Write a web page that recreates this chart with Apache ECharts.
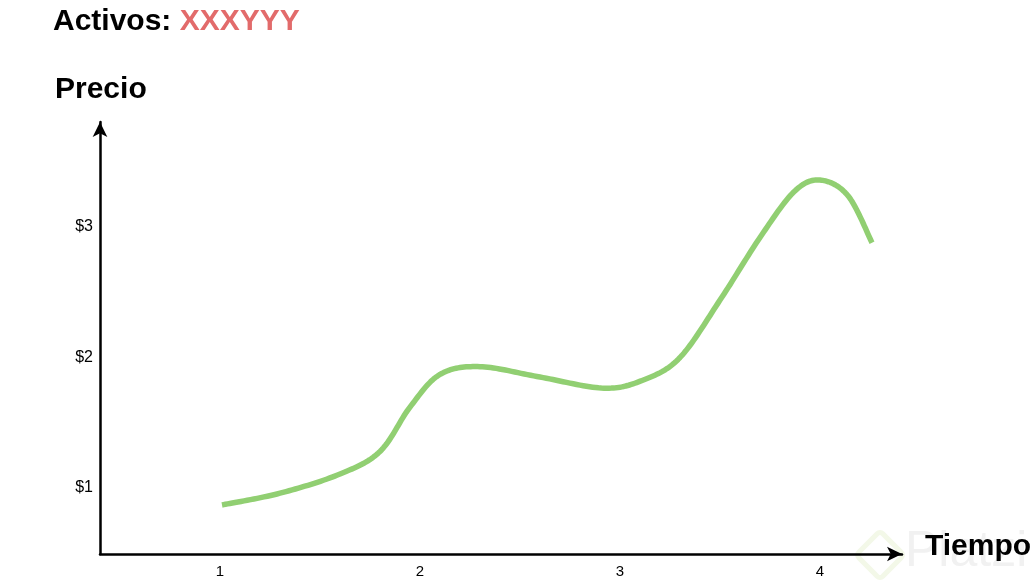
<!DOCTYPE html>
<html>
<head>
<meta charset="utf-8">
<script src="https://cdn.jsdelivr.net/npm/echarts@6/dist/echarts.min.js"></script>
<style>html,body{margin:0;padding:0;background:#fff}#c{width:1035px;height:588px}</style>
</head>
<body>
<div id="c"></div>
<script>
const titleLabel = 'Activos: ';
const assetName = 'XXXYYY';
const yName = 'Precio';
const xName = 'Tiempo';
const watermark = 'Platzi';
const xTicks = [1, 2, 3, 4];
const yTicks = [1, 2, 3];
const timeValues = [1.01, 1.3, 1.6, 1.8, 1.95, 2.1, 2.3, 2.6, 2.92, 3.12, 3.3, 3.5, 3.7, 3.87, 4.0, 4.14, 4.26];
const priceValues = [0.87, 0.96, 1.107, 1.28, 1.62, 1.87, 1.93, 1.85, 1.765, 1.83, 2.00, 2.44, 2.92, 3.27, 3.36, 3.24, 2.88];

const chart = echarts.init(document.getElementById('c'));
const font = '"Liberation Sans", Arial, Helvetica, sans-serif';
const seriesData = timeValues.map((t, i) => [t, priceValues[i]]);

function renderCurve(params, api) {
  if (params.dataIndex !== 0) return null;
  const p = seriesData.map(d => api.coord(d));
  const out = [];
  const n = p.length;
  for (let i = 0; i < n - 1; i++) {
    const p0 = p[Math.max(0, i - 1)], p1 = p[i], p2 = p[i + 1], p3 = p[Math.min(n - 1, i + 2)];
    const c1 = [p1[0] + (p2[0] - p0[0]) / 6, p1[1] + (p2[1] - p0[1]) / 6];
    const c2 = [p2[0] - (p3[0] - p1[0]) / 6, p2[1] - (p3[1] - p1[1]) / 6];
    const steps = 20;
    for (let s = 0; s < steps; s++) {
      const t = s / steps, u = 1 - t;
      out.push([
        u*u*u*p1[0] + 3*u*u*t*c1[0] + 3*u*t*t*c2[0] + t*t*t*p2[0],
        u*u*u*p1[1] + 3*u*u*t*c1[1] + 3*u*t*t*c2[1] + t*t*t*p2[1]
      ]);
    }
  }
  out.push(p[n - 1]);
  return {
    type: 'polyline',
    shape: { points: out },
    style: { stroke: '#91cf72', lineWidth: 5.5, fill: null, lineJoin: 'round', lineCap: 'butt' }
  };
}

chart.setOption({
  animation: false,
  backgroundColor: '#ffffff',
  grid: { left: 100, right: 133, top: 122, bottom: 34 },
  xAxis: {
    type: 'value', min: 0.4, max: 4.41,
    splitLine: { show: false },
    axisTick: { show: false },
    axisLine: { show: true, onZero: false, symbol: ['none', 'arrow'], symbolSize: [11, 15], lineStyle: { color: '#000', width: 2.5 } },
    axisLabel: { customValues: xTicks, color: '#000', fontSize: 15, fontFamily: font, margin: 10 }
  },
  yAxis: {
    type: 'value', min: 0.494, max: 3.805,
    splitLine: { show: false },
    axisTick: { show: false },
    axisLine: { show: true, onZero: false, symbol: ['none', 'arrow'], symbolSize: [11, 15], lineStyle: { color: '#000', width: 2.5 } },
    axisLabel: { customValues: yTicks, formatter: v => '$' + v, color: '#000', fontSize: 16, fontFamily: font, margin: 7 }
  },
  graphic: [
    { type: 'rect', x: 880, y: 555, rotation: Math.PI / 4, z: 0, shape: { x: -17, y: -17, width: 34, height: 34, r: 4 }, style: { fill: 'none', stroke: '#f3f8e8', lineWidth: 5 } },
    { type: 'text', left: 905, top: 527, z: 0, style: { text: watermark, fill: '#f1f1f1', font: '50px ' + font } },
    { type: 'text', left: 53, top: 7, style: { rich: { a: { fill: '#000', font: 'bold 30px ' + font }, b: { fill: '#e26b6b', font: 'bold 30px ' + font } }, text: '{a|' + titleLabel + '}{b|' + assetName + '}' } },
    { type: 'text', left: 55, top: 75, style: { text: yName, fill: '#000', font: 'bold 30px ' + font } },
    { type: 'text', left: 925, top: 532, z: 10, style: { text: xName, fill: '#000', font: 'bold 30px ' + font } }
  ],
  series: [{
    type: 'custom',
    coordinateSystem: 'cartesian2d',
    encode: { x: 0, y: 1 },
    data: seriesData,
    renderItem: renderCurve
  }]
});
</script>
</body>
</html>
